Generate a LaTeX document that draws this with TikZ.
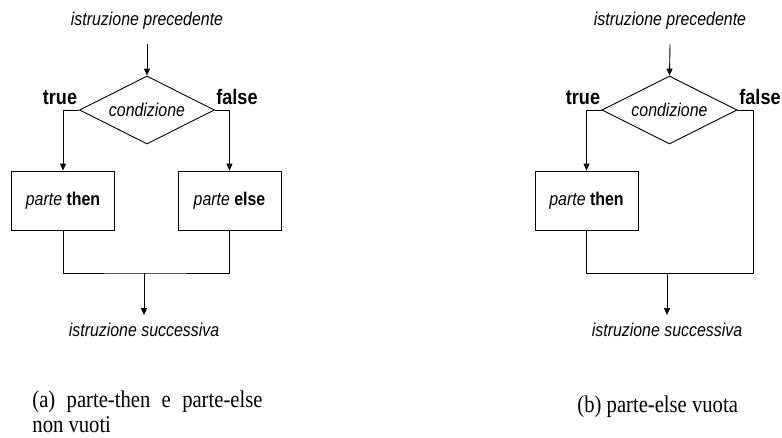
\documentclass[tikz,border=0pt]{standalone}
\usepackage{fontspec}
\setmainfont[FakeStretch=0.86]{Liberation Serif}
\newfontfamily\dsans[FakeStretch=0.86]{Liberation Sans}
\usetikzlibrary{shapes.geometric,arrows.meta}
\begin{document}
\begin{tikzpicture}[x=1pt,y=-1pt,
  line width=0.9pt,
  arr/.style={-{Triangle[length=7pt,width=6pt]}},
  prec/.style={font=\dsans\fontsize{18.5}{22}\selectfont\itshape, inner xsep=0pt, inner ysep=15pt, text depth=4pt, anchor=base},
  succ/.style={font=\dsans\fontsize{18.5}{22}\selectfont\itshape, inner xsep=0pt, inner ysep=9pt, text height=12pt, anchor=base},
  tf/.style={font=\dsans\fontsize{21}{25}\selectfont\bfseries, inner sep=0pt, anchor=base},
  cond/.style={diamond, draw, minimum width=135pt, minimum height=68pt, inner sep=0pt, aspect=2, font=\dsans\fontsize{18.5}{22}\selectfont\itshape},
  stepbox/.style={draw, minimum width=103pt, minimum height=59pt, inner sep=0pt, font=\dsans\fontsize{18.5}{22}\selectfont},
  captxt/.style={font=\fontsize{24}{25}\selectfont, inner sep=0pt, anchor=base west, align=left}
]
\useasboundingbox (0,0) rectangle (782,437);

% ---------- (a) ----------
\node[prec] (prec1) at (147,25) {istruzione precedente};
\node[cond] (cond1) at (147,110) {condizione};
\node[tf] (true1) at (60,104) {true};
\node[tf] (false1) at (237,104) {false};
\node[stepbox] (then1) at (63,200.5) {\textit{parte} \textbf{then}};
\node[stepbox] (else1) at (229.5,200.5) {\textit{parte} \textbf{else}};
\coordinate (j1) at (144,273);
\node[succ] (succ1) at (144,336.5) {istruzione successiva};

\draw[arr] (prec1.south) -- (cond1.north);
\draw[arr] (cond1.west) -| (then1.north);
\draw[arr] (cond1.east) -| (else1.north);
\draw (then1.south) |- (j1) -| (else1.south);
\draw[arr] (j1) -- (succ1.north);

% ---------- (b) ----------
\node[prec] (prec2) at (670,25) {istruzione precedente};
\node[cond] (cond2) at (669.5,110) {condizione};
\node[tf] (true2) at (583,104) {true};
\node[tf] (false2) at (760,104) {false};
\node[stepbox] (then2) at (586.5,200.5) {\textit{parte} \textbf{then}};
\coordinate (cr) at (753,273);
\coordinate (j2) at (667,273);
\node[succ] (succ2) at (667,336.5) {istruzione successiva};

\draw[arr] (prec2.south) -- (cond2.north);
\draw[arr] (cond2.west) -| (then2.north);
\draw (then2.south) |- (cr) |- (cond2.east);
\draw[arr] (j2) -- (succ2.north);

% ---------- captions ----------
\node[captxt] (capa) at (32,432.5) {\makebox[230pt][s]{(a) parte-then e parte-else}\\non vuoti};
\node[captxt] (capb) at (577,412) {(b) parte-else vuota};
\end{tikzpicture}
\end{document}
